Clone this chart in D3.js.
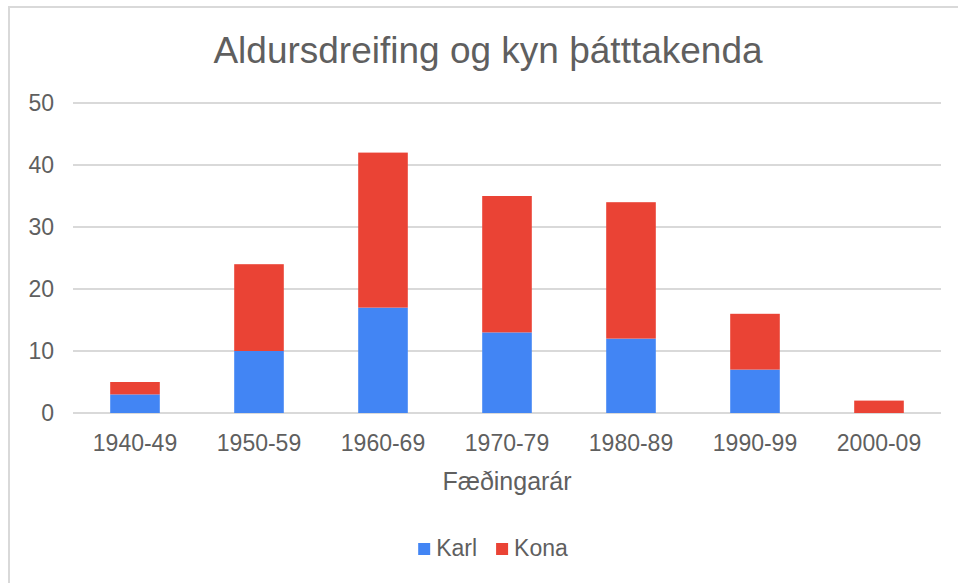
<!DOCTYPE html>
<html>
<head>
<meta charset="utf-8">
<script src="https://cdnjs.cloudflare.com/ajax/libs/d3/7.8.5/d3.min.js"></script>
<style>
    body { margin: 0; background: #fff; }
    svg { display: block; font-family: "Liberation Sans", Arial, sans-serif; }
    .tick text { fill: #5f5f5f; }
</style>
</head>
<body>
<div id="chart"></div>
<script>
var categories = ['1940-49', '1950-59', '1960-69', '1970-79', '1980-89', '1990-99', '2000-09'];
var karl = [3, 10, 17, 13, 12, 7, 0];
var kona = [2, 14, 25, 22, 22, 9, 2];
var seriesNames = ['Karl', 'Kona'];
var seriesColors = ['#4285f4', '#ea4335'];
var yTicks = [0, 10, 20, 30, 40, 50];

function drawChart(divId, width, height) {
    width = width || 958;
    height = height || 583;

    var left = 73, right = 941, top = 103, bottom = 413;
    var textColor = '#5f5f5f';

    var rows = categories.map(function (c, i) {
        return { cat: c, Karl: karl[i], Kona: kona[i] };
    });

    var svg = d3.select(divId)
      .append('svg')
      .attr('width', width)
      .attr('height', height);

    // border of the chart area
    svg.append('rect')
      .attr('x', 9)
      .attr('y', 7)
      .attr('width', width + 20)
      .attr('height', height + 20)
      .attr('fill', 'none')
      .attr('stroke', '#d9d9d9')
      .attr('stroke-width', 2);

    var x = d3.scaleBand()
      .domain(categories)
      .range([left, right])
      .paddingInner(0.6)
      .paddingOuter(0.3);

    var y = d3.scaleLinear()
      .domain([0, 50])
      .range([bottom, top]);

    // gridlines
    svg.append('g')
      .selectAll('line')
      .data(yTicks)
      .enter()
      .append('line')
      .attr('x1', left)
      .attr('x2', right)
      .attr('y1', function (d) { return y(d); })
      .attr('y2', function (d) { return y(d); })
      .attr('stroke', '#d9d9d9')
      .attr('stroke-width', 2);

    var stack = d3.stack().keys(seriesNames);
    var layers = stack(rows);

    svg.append('g')
      .selectAll('g')
      .data(layers)
      .enter()
      .append('g')
      .attr('fill', function (d, i) { return seriesColors[i]; })
      .selectAll('rect')
      .data(function (d) { return d; })
      .enter()
      .append('rect')
      .attr('x', function (d) { return x(d.data.cat); })
      .attr('width', x.bandwidth())
      .attr('y', function (d) { return y(d[1]); })
      .attr('height', function (d) { return y(d[0]) - y(d[1]); });

    // y axis labels
    var yAxis = d3.axisLeft(y)
      .tickValues(yTicks)
      .tickSize(0)
      .tickPadding(0);

    svg.append('g')
      .attr('transform', 'translate(54,0)')
      .call(yAxis)
      .call(function (g) { g.select('.domain').remove(); })
      .selectAll('text')
      .attr('font-size', 23)
      .attr('font-family', null);

    // x axis labels
    var xAxis = d3.axisBottom(x)
      .tickSize(0)
      .tickPadding(0);

    svg.append('g')
      .attr('transform', 'translate(0,' + 435 + ')')
      .call(xAxis)
      .call(function (g) { g.select('.domain').remove(); })
      .selectAll('text')
      .attr('font-size', 23)
      .attr('font-family', null);

    svg.append('text')
      .attr('x', 488)
      .attr('y', 63)
      .attr('text-anchor', 'middle')
      .attr('font-size', 37)
      .attr('fill', textColor)
      .text('Aldursdreifing og kyn þátttakenda');

    svg.append('text')
      .attr('x', 507)
      .attr('y', 490)
      .attr('text-anchor', 'middle')
      .attr('font-size', 25)
      .attr('fill', textColor)
      .text('Fæðingarár');

    // legend
    var legendRectSize = 12;
    var legendSpacing = 6;
    var legendGap = 19;
    var legend = svg.append('g');

    var offset = 0;
    seriesNames.forEach(function (name, i) {
        var item = legend.append('g')
          .attr('transform', 'translate(' + offset + ',0)');
        item.append('rect')
          .attr('x', 0)
          .attr('y', -legendRectSize)
          .attr('width', legendRectSize)
          .attr('height', legendRectSize)
          .attr('fill', seriesColors[i]);
        var t = item.append('text')
          .attr('x', legendRectSize + legendSpacing)
          .attr('y', 1)
          .attr('font-size', 23)
          .attr('fill', textColor)
          .text(name);
        offset += legendRectSize + legendSpacing + t.node().getComputedTextLength() + legendGap;
    });
    var legendWidth = offset - legendGap;
    legend.attr('transform', 'translate(' + (493 - legendWidth / 2) + ',' + 555 + ')');
}

drawChart('#chart', 958, 583);
</script>
</body>
</html>
